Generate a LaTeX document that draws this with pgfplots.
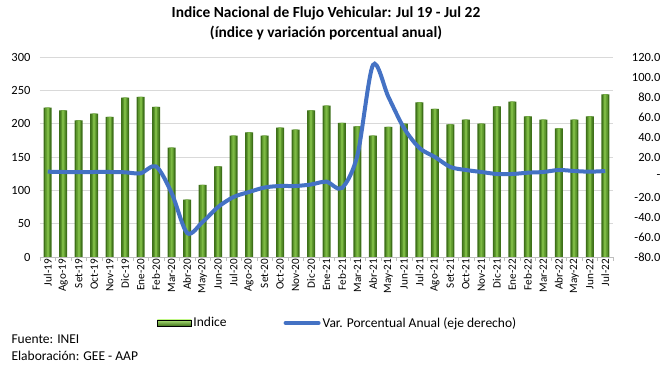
\documentclass[border=0pt]{standalone}
\usepackage{fontspec}
\setmainfont{Carlito}
\usepackage{pgfplots}
\usepackage{pgfplotstable}
\pgfplotsset{compat=1.18}
\definecolor{bardark}{RGB}{62,112,26}
\definecolor{barmid}{RGB}{92,150,44}
\definecolor{barlight}{RGB}{125,186,68}
\definecolor{leglight}{RGB}{175,228,120}
\definecolor{linecol}{RGB}{68,114,196}
\definecolor{gridc}{RGB}{217,217,217}
\definecolor{axc}{RGB}{190,190,190}
\pgfplotstableread{
i idx var
0 224 5.3
1 220 5.0
2 205 4.8
3 215 5.0
4 210 5.0
5 239 4.7
6 240 3.7
7 225 10.5
8 164 -16
9 86 -56
10 108 -45
11 136 -30
12 182 -20
13 187 -15
14 182 -10.5
15 194 -9
16 191 -9
17 220 -7.5
18 227 -4.7
19 201 -11
20 196 22
21 182 112
22 195 80
23 200 49
24 232 29
25 222 20
26 199 10
27 206 7
28 200 5
29 226 3
30 233 3
31 211 4.3
32 206 5
33 193 7
34 206 6
35 211 5.3
36 244 6
}\data
\begin{document}
\begin{tikzpicture}[x=1pt,y=1pt]
\useasboundingbox (0,0) rectangle (665,369);
\pgfplotsset{every axis/.append style={scale only axis, width=573pt, height=200pt,
  xmin=-0.5, xmax=36.5, at={(40pt,112pt)}, anchor=south west,
  ticklabel style={font=\fontsize{12.5}{14}\selectfont}}}
\begin{axis}[
  ymin=0, ymax=300,
  ytick={0,50,...,300}, yticklabels={0,50,100,150,200,250,300},
  axis y line*=left, axis x line*=bottom,
  y axis line style={draw=none},
  x axis line style={axc},
  ymajorgrids, grid style={gridc, line width=0.8pt},
  major tick length=0pt,
  xtick=data,
  xticklabels={Jul-19,Ago-19,Set-19,Oct-19,Nov-19,Dic-19,Ene-20,Feb-20,Mar-20,Abr-20,May-20,Jun-20,Jul-20,Ago-20,Set-20,Oct-20,Nov-20,Dic-20,Ene-21,Feb-21,Mar-21,Abr-21,May-21,Jun-21,Jul-21,Ago-21,Set-21,Oct-21,Nov-21,Dic-21,Ene-22,Feb-22,Mar-22,Abr-22,May-22,Jun-22,Jul-22},
  xticklabel style={rotate=90, anchor=east, font=\fontsize{11.2}{12}\selectfont, inner sep=2pt},
  minor xtick={-0.5,0.5,...,36.5},
  minor x tick style={axc},
  minor tick length=4pt,
  tick align=outside,
  yticklabel style={xshift=-6pt},
]
\addplot[ybar, bar width=8pt, bar shift=0pt, draw=none, fill=bardark] table[x=i, y=idx] {\data};
\addplot[ybar, bar width=5pt, bar shift=0pt, draw=none, fill=barmid] table[x=i, y=idx] {\data};
\addplot[ybar, bar width=2.2pt, bar shift=0pt, draw=none, fill=barlight] table[x=i, y=idx] {\data};
\end{axis}
\begin{axis}[
  ymin=-80, ymax=120,
  ytick={-80,-60,...,120},
  yticklabels={-80.0,-60.0,-40.0,-20.0,-,20.0,40.0,60.0,80.0,100.0,120.0},
  axis y line*=right, axis x line=none,
  y axis line style={draw=none},
  major tick length=0pt,
  yticklabel style={anchor=east, xshift=51pt},
  legend style={at={(0.204,-0.33)}, anchor=west, draw=none, fill=none,
    legend columns=2, font=\fontsize{13.5}{15}\selectfont,
    /tikz/every even column/.append style={column sep=55pt},
    inner sep=0pt},
]
\addlegendimage{legend image code/.code={\fill[bottom color=bardark, top color=leglight] (0pt,-3pt) rectangle (34pt,3pt);}}
\addlegendentry{Indice}
\addplot[linecol, line width=4pt, smooth, tension=0.5,
  legend image code/.code={\draw[linecol, line width=4pt, line cap=round] (0pt,0pt) -- (33pt,0pt);}] table[x=i, y=var] {\data};
\addlegendentry{Var. Porcentual Anual (eje derecho)}
\end{axis}
\node[font=\bfseries\fontsize{15.4}{17}\selectfont] at (326,356) {Indice Nacional de Flujo Vehicular: Jul 19 - Jul 22};
\node[font=\bfseries\fontsize{15.4}{17}\selectfont] at (326,336) {(índice y variación porcentual anual)};
\node[anchor=west, font=\fontsize{13.5}{15}\selectfont] at (8,30) {Fuente: INEI};
\node[anchor=west, font=\fontsize{13.5}{15}\selectfont] at (8,13) {Elaboración: GEE - AAP};
\end{tikzpicture}
\end{document}
